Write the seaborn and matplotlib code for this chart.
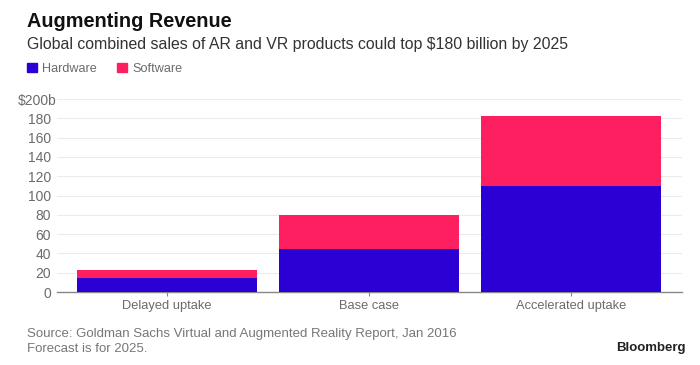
import matplotlib
matplotlib.use("Agg")
import matplotlib.pyplot as plt
from matplotlib.transforms import ScaledTranslation
import seaborn as sns
import numpy as np

# chart data (billions of dollars)
scenarios = ['Delayed uptake', 'Base case', 'Accelerated uptake']
hardware = [15, 45, 110]
software = [8, 35, 72]
y_ticks = [0, 20, 40, 60, 80, 100, 120, 140, 160, 180, 200]
y_labels = ['0', '20', '40', '60', '80', '100', '120', '140', '160', '180', '$200b']

HW_COLOR = '#2a00d4'
SW_COLOR = '#fd1f60'
GRAY = '#6b6b6b'

sns.set_style('white')
plt.rcParams['font.family'] = ['Liberation Sans', 'DejaVu Sans']

fig = plt.figure(figsize=(7, 3.65), dpi=100)
ax = fig.add_axes([57 / 700, 1 - 292 / 365, 625 / 700, 193 / 365])

totals = np.array(hardware) + np.array(software)
sns.barplot(x=scenarios, y=totals, color=SW_COLOR, width=0.89, linewidth=0,
            saturation=1, ax=ax, zorder=3)
sns.barplot(x=scenarios, y=hardware, color=HW_COLOR, width=0.89, linewidth=0,
            saturation=1, ax=ax, zorder=3)

ax.set_xlim(-0.545, 2.55)
ax.set_ylim(0, 200)
ax.set_yticks(y_ticks)
ax.set_yticklabels(y_labels)
ax.grid(axis='y', color='#ececec', linewidth=0.8, zorder=0)
ax.set_axisbelow(True)
for side in ['top', 'right', 'left']:
    ax.spines[side].set_visible(False)
ax.spines['bottom'].set_color('#888888')
ax.spines['bottom'].set_linewidth(1)
ax.tick_params(axis='y', length=0, pad=4.3, labelsize=10, labelcolor=GRAY)
ax.tick_params(axis='x', length=3, width=0.8, color='#888888', pad=3,
               labelsize=9.3, labelcolor=GRAY, bottom=True)
ax.set_xlabel('')
ax.set_ylabel('')
# the "b" suffix of the top label hangs past the other labels
top_label = ax.get_yticklabels()[-1]
top_label.set_transform(top_label.get_transform() + ScaledTranslation(6 / 100, 0, fig.dpi_scale_trans))

# titles
fig.text(27 / 700, 1 - 27 / 365, 'Augmenting Revenue', fontsize=14.3, fontweight='bold',
         color='#111111', va='baseline', ha='left')
fig.text(27 / 700, 1 - 49 / 365,
         'Global combined sales of AR and VR products could top $180 billion by 2025',
         fontsize=11.4, color='#333333', va='baseline', ha='left')

# legend
handles = [plt.Rectangle((0, 0), 1, 1, color=HW_COLOR),
           plt.Rectangle((0, 0), 1, 1, color=SW_COLOR)]
fig.legend(handles, ['Hardware', 'Software'], loc='center left',
           bbox_to_anchor=(17 / 700, 1 - 69 / 365), ncol=2, frameon=False,
           fontsize=9.1, labelcolor=GRAY, handlelength=0.75, handleheight=0.75,
           handletextpad=0.45, columnspacing=1.6, borderpad=0.3)

# footer
fig.text(27 / 700, 1 - 334 / 365,
         'Source: Goldman Sachs Virtual and Augmented Reality Report, Jan 2016',
         fontsize=9.5, color='#777777', va='center', ha='left')
fig.text(27 / 700, 1 - 349 / 365, 'Forecast is for 2025.',
         fontsize=9.5, color='#777777', va='center', ha='left')
fig.text(686 / 700, 1 - 348 / 365, 'Bloomberg', fontsize=9.5, fontweight='bold',
         color='#222222', va='center', ha='right')

fig.savefig('out.png', dpi=100, facecolor='white')
